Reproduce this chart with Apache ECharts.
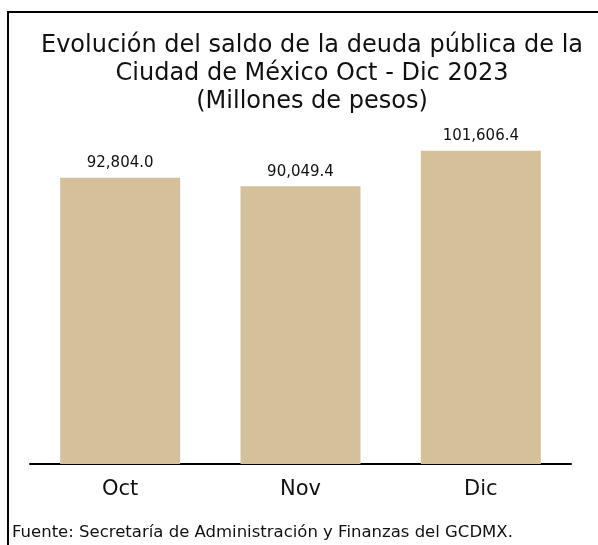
<!DOCTYPE html>
<html>
<head>
<meta charset="utf-8">
<script src="https://cdn.jsdelivr.net/npm/echarts@6/dist/echarts.min.js"></script>
<style>
html,body{margin:0;padding:0;background:#fff;}
#chart{width:598px;height:545px;}
</style>
</head>
<body>
<div id="chart"></div>
<script>
var months = ['Oct', 'Nov', 'Dic'];
var saldo = [92804.0, 90049.4, 101606.4];

var chart = echarts.init(document.getElementById('chart'));

var option = {
    animation: false,
    title: {
        text: 'Evolución del saldo de la deuda pública de la\nCiudad de México Oct - Dic 2023\n(Millones de pesos)',
        left: 307,
        top: 27,
        textAlign: 'center',
        textStyle: {
            fontFamily: 'DejaVu Sans',
            fontSize: 24,
            fontWeight: 'normal',
            color: '#111',
            lineHeight: 28
        }
    },
    graphic: [
        {
            type: 'rect',
            shape: {x: 8, y: 12, width: 620, height: 600},
            style: {fill: 'none', stroke: '#000', lineWidth: 2}
        },
        {
            type: 'text',
            left: 12,
            top: 524,
            style: {
                text: 'Fuente: Secretaría de Administración y Finanzas del GCDMX.',
                font: '16.5px "DejaVu Sans"',
                fill: '#111'
            }
        }
    ],
    grid: {
        left: 30,
        right: 27,
        top: 94,
        bottom: 81
    },
    xAxis: {
        type: 'category',
        data: months,
        axisLine: {lineStyle: {color: '#000', width: 2}},
        axisTick: {show: false},
        axisLabel: {
            fontFamily: 'DejaVu Sans',
            fontSize: 21,
            color: '#111',
            margin: 15
        }
    },
    yAxis: {
        type: 'value',
        min: 0,
        max: 120000,
        show: false
    },
    series: [{
        type: 'bar',
        data: saldo,
        barWidth: 120,
        itemStyle: {color: '#D4C19C'},
        label: {
            show: true,
            position: 'top',
            distance: 7,
            fontFamily: 'DejaVu Sans',
            fontSize: 15,
            color: '#111',
            formatter: function (p) {
                return p.value.toLocaleString('en-US', {minimumFractionDigits: 1, maximumFractionDigits: 1});
            }
        }
    }]
};

chart.setOption(option);
</script>
</body>
</html>
